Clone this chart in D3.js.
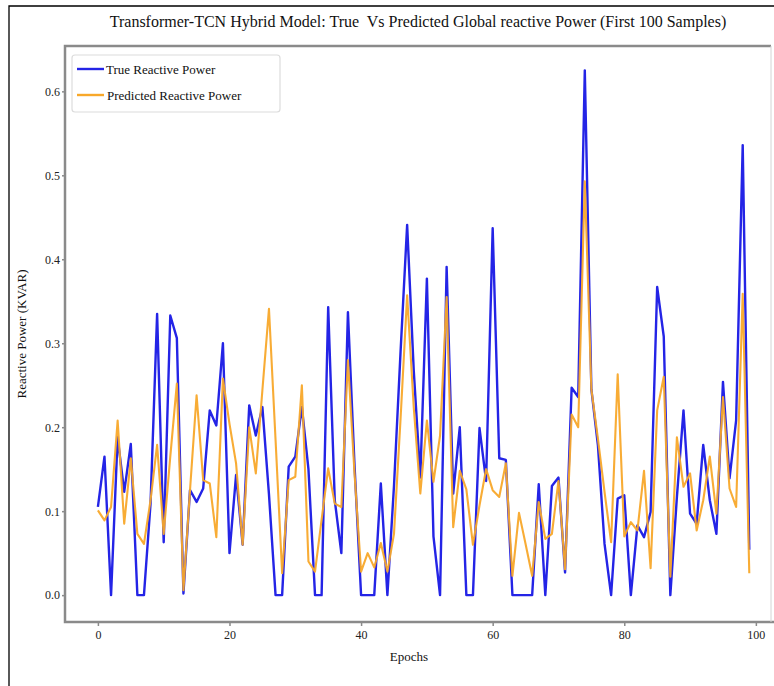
<!DOCTYPE html>
<html>
<head>
<meta charset="utf-8">
<script src="https://cdn.jsdelivr.net/npm/d3@7"></script>
<style>
  body { margin: 0; background: #fff; }
  svg { display: block; font-family: "Liberation Serif", "Times New Roman", serif; }
</style>
</head>
<body>
<svg width="774" height="686"></svg>
<script>
// first 100 samples
const epochs = d3.range(100);
const trueVals = [
  0.105, 0.165, 0.0, 0.188, 0.123, 0.18, 0.0, 0.0, 0.109, 0.335,
  0.063, 0.333, 0.306, 0.002, 0.125, 0.111, 0.127, 0.22, 0.202, 0.3,
  0.05, 0.143, 0.06, 0.226, 0.19, 0.224, 0.12, 0.0, 0.0, 0.153,
  0.165, 0.224, 0.15, 0.0, 0.0, 0.343, 0.113, 0.05, 0.337, 0.155,
  0.0, 0.0, 0.0, 0.133, 0.0, 0.13, 0.29, 0.441, 0.268, 0.14,
  0.377, 0.07, 0.0, 0.391, 0.121, 0.2, 0.0, 0.0, 0.199, 0.136,
  0.437, 0.163, 0.161, 0.0, 0.0, 0.0, 0.0, 0.132, 0.0, 0.13,
  0.14, 0.027, 0.247, 0.236, 0.625, 0.245, 0.178, 0.061, 0.0, 0.115,
  0.119, 0.0, 0.083, 0.069, 0.099, 0.367, 0.308, 0.0, 0.117, 0.22,
  0.097, 0.085, 0.179, 0.113, 0.073, 0.254, 0.139, 0.208, 0.536, 0.054
];
const predVals = [
  0.101, 0.089, 0.105, 0.208, 0.085, 0.163, 0.073, 0.061, 0.113, 0.179,
  0.073, 0.165, 0.252, 0.006, 0.125, 0.238, 0.137, 0.133, 0.069, 0.258,
  0.204, 0.157, 0.06, 0.2, 0.145, 0.244, 0.341, 0.185, 0.026, 0.137,
  0.141, 0.25, 0.04, 0.028, 0.09, 0.151, 0.109, 0.105, 0.28, 0.145,
  0.028, 0.05, 0.033, 0.062, 0.028, 0.073, 0.21, 0.357, 0.224, 0.121,
  0.208, 0.135, 0.19, 0.355, 0.081, 0.148, 0.126, 0.06, 0.107, 0.15,
  0.125, 0.117, 0.157, 0.023, 0.098, 0.061, 0.023, 0.111, 0.067, 0.073,
  0.136, 0.031, 0.215, 0.2, 0.493, 0.245, 0.186, 0.123, 0.063, 0.263,
  0.07, 0.087, 0.077, 0.148, 0.032, 0.22, 0.26, 0.022, 0.188, 0.129,
  0.145, 0.077, 0.113, 0.165, 0.097, 0.236, 0.127, 0.105, 0.359, 0.026
];
const xTicks = [0, 20, 40, 60, 80, 100];
const yTicks = [0.0, 0.1, 0.2, 0.3, 0.4, 0.5, 0.6];
const seriesNames = ["True Reactive Power", "Predicted Reactive Power"];

const blue = "#2424e6", orange = "#f8a82a", frameCol = "#8a8a8a";

const svg = d3.select("svg");

// outer border (left + top only visible)
svg.append("path")
  .attr("d", "M9,686 L9,6 L774,6")
  .attr("fill", "none")
  .attr("stroke", "#000")
  .attr("stroke-width", 1.3);

const plotL = 65, plotR = 771, plotT = 46, plotB = 622;

const x = d3.scaleLinear().domain([-5, 102.3]).range([plotL, plotR]);
const y = d3.scaleLinear().domain([-0.032, 0.654]).range([plotB, plotT]);

// title
svg.append("text")
  .attr("x", 418).attr("y", 27)
  .attr("text-anchor", "middle")
  .attr("font-size", "16px")
  .attr("fill", "#111")
  .text("Transformer-TCN Hybrid Model: True\u00a0 Vs Predicted Global reactive Power (First 100 Samples)");

// axes
const xAxis = svg.append("g")
  .attr("transform", `translate(0, ${plotB})`)
  .call(d3.axisBottom(x).tickValues(xTicks).tickSize(4).tickSizeOuter(0).tickPadding(4));
const yAxis = svg.append("g")
  .attr("transform", `translate(${plotL}, 0)`)
  .call(d3.axisLeft(y).tickValues(yTicks).tickFormat(d3.format(".1f")).tickSize(3).tickSizeOuter(0).tickPadding(2));

[xAxis, yAxis].forEach(g => {
  g.select(".domain").remove();
  g.selectAll("line").attr("stroke", frameCol).attr("stroke-width", 1.5);
  g.selectAll("text").attr("font-size", "12px").attr("fill", "#222")
    .attr("font-family", "'Liberation Serif', 'Times New Roman', serif");
});

// lines
const line = d3.line().x((d, i) => x(epochs[i])).y(d => y(d));

svg.append("path")
  .datum(trueVals)
  .attr("fill", "none")
  .attr("stroke", blue)
  .attr("stroke-width", 2.4)
  .attr("stroke-linejoin", "round")
  .attr("d", line);

svg.append("path")
  .datum(predVals)
  .attr("fill", "none")
  .attr("stroke", orange)
  .attr("stroke-width", 2.1)
  .attr("stroke-opacity", 0.95)
  .attr("stroke-linejoin", "round")
  .attr("d", line);

// frame
svg.append("path")
  .attr("d", `M${plotR},${plotT} L${plotL},${plotT} L${plotL},${plotB} L${plotR + 10},${plotB}`)
  .attr("fill", "none")
  .attr("stroke", frameCol)
  .attr("stroke-width", 2.5);
svg.append("line")
  .attr("x1", plotR).attr("x2", plotR).attr("y1", plotT).attr("y2", plotB)
  .attr("stroke", "#d4d4d4").attr("stroke-width", 1);

// axis labels
svg.append("text")
  .attr("x", 409).attr("y", 661)
  .attr("text-anchor", "middle")
  .attr("font-size", "13px")
  .attr("fill", "#111")
  .text("Epochs");

svg.append("text")
  .attr("transform", `translate(26, ${(plotT + plotB) / 2}) rotate(-90)`)
  .attr("text-anchor", "middle")
  .attr("font-size", "13px")
  .attr("fill", "#111")
  .text("Reactive Power (KVAR)");

// legend
const lg = svg.append("g");
lg.append("rect")
  .attr("x", 72).attr("y", 55)
  .attr("width", 208).attr("height", 57)
  .attr("rx", 3)
  .attr("fill", "#fff")
  .attr("fill-opacity", 0.85)
  .attr("stroke", "#dcdcdc")
  .attr("stroke-width", 1.2);

[blue, orange].forEach((c, i) => {
  const ly = 69 + i * 26;
  lg.append("line")
    .attr("x1", 77).attr("x2", 104)
    .attr("y1", ly).attr("y2", ly)
    .attr("stroke", c).attr("stroke-width", 2.4);
  lg.append("text")
    .attr("x", 106 + i).attr("y", ly + 4.5)
    .attr("font-size", "13px")
    .attr("fill", "#111")
    .text(seriesNames[i]);
});
</script>
</body>
</html>
